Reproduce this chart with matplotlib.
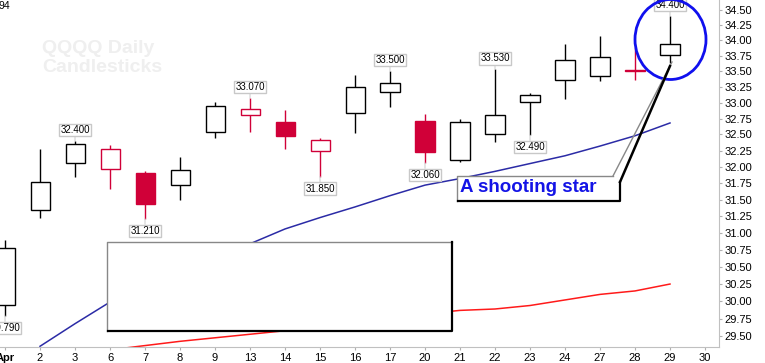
import matplotlib
matplotlib.use("Agg")
import matplotlib.pyplot as plt
from matplotlib.patches import Rectangle, Ellipse
from matplotlib.lines import Line2D
from matplotlib.ticker import FixedLocator, FormatStrFormatter, NullLocator

# QQQQ daily, April
days = ['Apr', '2', '3', '6', '7', '8', '9', '13', '14', '15', '16', '17',
        '20', '21', '22', '23', '24', '27', '28', '29', '30']
opens = [29.95, 31.34, 32.06, 31.97, 31.91, 31.72, 32.54, 32.80, 32.70, 32.24,
         32.83, 33.17, 32.71, 32.10, 32.50, 33.01, 33.36, 33.42, 33.52, 33.76]
highs = [30.89, 32.28, 32.40, 32.34, 31.93, 32.15, 33.01, 33.07, 32.89, 32.45,
         33.44, 33.50, 32.82, 32.74, 33.53, 33.15, 33.95, 34.07, 33.90, 34.40]
lows = [29.79, 31.23, 31.84, 31.66, 31.21, 31.49, 32.44, 32.54, 32.27, 31.85,
        32.52, 32.93, 32.06, 32.08, 32.39, 32.49, 33.06, 33.35, 33.36, 33.63]
closes = [30.78, 31.77, 32.35, 32.27, 31.43, 31.95, 32.94, 32.90, 32.48, 32.42,
          33.25, 33.31, 32.23, 32.69, 32.80, 33.12, 33.69, 33.73, 33.51, 33.94]

# moving averages (blue starts on day 1, red on day 3)
ma_blue = [29.36, 29.68, 29.99, 30.24, 30.44, 30.63, 30.84, 31.06, 31.23, 31.39,
           31.56, 31.72, 31.82, 31.93, 32.05, 32.17, 32.32, 32.48, 32.68]
ma_red = [29.31, 29.37, 29.43, 29.48, 29.53, 29.58, 29.64, 29.69, 29.75, 29.82,
          29.87, 29.89, 29.94, 30.02, 30.10, 30.15, 30.25]

high_labels = [2, 7, 11, 14, 19]
low_labels = [0, 4, 9, 12, 15]

yticks = [29.50 + 0.25 * k for k in range(21)]

RED = '#d00038'
W, H = 765, 363

fig = plt.figure(figsize=(W / 100, H / 100), dpi=100)
ax = fig.add_axes([0, 16 / H, 719 / W, 347 / H])
ax.set_yscale('log')

bw = 0.543
for i in range(len(opens)):
    o, h, l, c = opens[i], highs[i], lows[i], closes[i]
    col = 'black' if i == 0 or c >= closes[i - 1] else RED
    ax.plot([i, i], [l, h], color=col, lw=1.0, zorder=2, solid_capstyle='butt')
    lo, hi = min(o, c), max(o, c)
    fc = 'white' if c > o else col
    ax.add_patch(Rectangle((i - bw / 2, lo), bw, hi - lo, facecolor=fc,
                           edgecolor=col, lw=1.0, zorder=3))

ax.plot(range(1, 1 + len(ma_blue)), ma_blue, color='#2b2ba6', lw=1.1, zorder=1)
ax.plot(range(3, 3 + len(ma_red)), ma_red, color='#ff1a1a', lw=1.1, zorder=1)

lbl = dict(fontsize=7, family='Liberation Sans', ha='center',
           textcoords='offset pixels', zorder=5,
           bbox=dict(boxstyle='square,pad=0.12', fc='white', ec='#c8c8c8', lw=1),
           arrowprops=dict(arrowstyle='-', color='#d0d0d0', lw=0.8,
                           shrinkA=0, shrinkB=0))
for i in high_labels:
    ax.annotate('%.3f' % highs[i], xy=(i, highs[i]), xytext=(0, 6), va='bottom', **lbl)
for i in low_labels:
    ax.annotate('%.3f' % lows[i], xy=(i, lows[i]), xytext=(0, -7), va='top', **lbl)

ax.set_xlim(-0.143, 20.4)
ax.set_ylim(29.35, 34.666)
ax.yaxis.set_major_locator(FixedLocator(yticks))
ax.yaxis.set_major_formatter(FormatStrFormatter('%.2f'))
ax.yaxis.set_minor_locator(NullLocator())
ax.yaxis.tick_right()
ax.set_xticks(range(len(days)))
ax.set_xticklabels(days)
ax.get_xticklabels()[0].set_fontweight('bold')
for s in ['top', 'left']:
    ax.spines[s].set_visible(False)
for s in ['right', 'bottom']:
    ax.spines[s].set_color('#c0c0c0')
ax.tick_params(axis='both', colors='#b0b0b0', labelcolor='black', length=2,
               labelsize=8, pad=2)
for t in ax.get_xticklabels() + ax.get_yticklabels():
    t.set_family('Liberation Sans')


def fx(px):
    return px / W


def fy(py):
    return 1 - py / H


def fline(xs, ys, **kw):
    fig.add_artist(Line2D([fx(x) for x in xs], [fy(y) for y in ys],
                          transform=fig.transFigure, **kw))


# watermark and stray text
fig.text(fx(42), fy(40), 'QQQQ Daily\nCandlesticks', color='#efefef', fontsize=14,
         fontweight='bold', family='Liberation Sans', va='top', linespacing=1.15)
fig.text(fx(-2), fy(1), '94', fontsize=7.5, family='Liberation Sans', va='top')

# blank cover box
fig.add_artist(Rectangle((fx(107), fy(331)), (452 - 107) / W, (331 - 242) / H,
                         transform=fig.transFigure, fc='white', ec='none'))
fline([107, 107, 452], [331, 242, 242], color='#888888', lw=1)
fline([108, 452, 452], [331, 331, 242], color='black', lw=1.6)

# callout
fig.add_artist(Rectangle((fx(457), fy(201)), (620 - 457) / W, (201 - 176) / H,
                         transform=fig.transFigure, fc='white', ec='none'))
fline([457, 457, 613], [201, 176, 176], color='#888888', lw=1)
fline([458, 620, 620], [201, 201, 182], color='black', lw=1.6)
fline([613, 672], [176, 62], color='#888888', lw=1)
fline([620, 670], [182, 66], color='black', lw=1.8)
fig.text(fx(460), fy(188), 'A shooting star', color='#1414e6', fontsize=13.5,
         fontweight='bold', family='Liberation Sans', va='center')

fig.add_artist(Ellipse((fx(670.5), fy(39.5)), 71 / W, 80 / H,
                       transform=fig.transFigure, fill=False, ec='#1010ee', lw=2))

fig.savefig('out.png', dpi=100)
